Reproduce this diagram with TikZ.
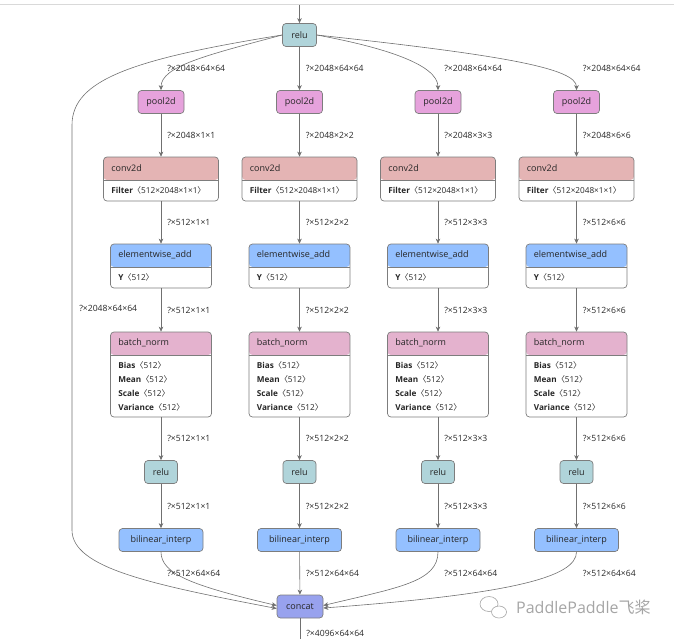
\documentclass[tikz,border=0pt]{standalone}
\usepackage{fontspec}
\setmainfont{Open Sans}
\newfontfamily\cjk{Noto Sans CJK SC}
\usetikzlibrary{arrows.meta}
\definecolor{opedge}{RGB}{112,112,112}
\definecolor{opline}{RGB}{125,125,125}
\definecolor{oprelu}{RGB}{176,212,218}
\definecolor{oppool}{RGB}{230,162,220}
\definecolor{opconv}{RGB}{228,180,180}
\definecolor{opadd}{RGB}{148,192,255}
\definecolor{opbn}{RGB}{228,178,206}
\definecolor{opcat}{RGB}{152,162,238}
\definecolor{wmark}{RGB}{165,165,165}
\newcommand{\tsz}[1]{{\cjk 〈}#1{\cjk 〉}}
\tikzset{
  op/.style={draw=opline, line width=0.7pt, rounded corners=3.5pt, inner sep=0pt,
    text=black!85, font=\fontsize{9}{11}\selectfont},
  small op/.style={op, fill=#1, minimum height=23pt},
  big op/.style 2 args={op, fill=white, minimum width=#2,
    path picture={
      \fill[#1] (path picture bounding box.north west) rectangle
        ([yshift=-23pt]path picture bounding box.north east);
      \draw[opline, line width=0.7pt] ([yshift=-23pt]path picture bounding box.north west) --
        ([yshift=-23pt]path picture bounding box.north east);}},
  optitle/.style={anchor=west, inner sep=0pt, text=black!85, font=\fontsize{9}{11}\selectfont},
  oprm/.style={anchor=west, inner sep=0pt, text=black!85, font=\fontsize{8.2}{9}\selectfont},
  flow/.style={draw=opedge, line width=0.6pt, -{Stealth[length=5pt,width=4.5pt,inset=1.5pt]}},
  lbl/.style={anchor=west, inner sep=0pt, xshift=6pt, text=black!85, font=\fontsize{8.6}{10}\selectfont},
}
\begin{document}
\begin{tikzpicture}[x=1pt, y=-1pt]
  \useasboundingbox (0,0) rectangle (674,638);
  \draw[black!15, line width=0.8pt] (0,4) -- (674,4);

  \coordinate (src) at (299.5,5);
  \node[small op=oprelu, minimum width=34pt] (relu) at (299.5,35) {relu};
  \node[small op=opcat, minimum width=46pt] (concat) at (300,606.5) {concat};
  \draw[flow] (src) -- (relu);

  \foreach \s [count=\i from 0] in {1,2,3,6}
  {
    \begin{scope}[shift={(161+138.5*\i,0)}]
      \node[small op=oppool, minimum width=46pt] (pool\i) at (0,102) {pool2d};
      \node[big op={opconv}{115pt}, minimum height=44pt] (conv\i) at (0,179) {};
      \node[optitle] (conv\i-t) at ([xshift=8pt,yshift=-11.5pt]conv\i.north west) {conv2d};
      \node[oprm] (conv\i-f) at ([xshift=8pt,yshift=-34pt]conv\i.north west)
        {\textbf{Filter}\tsz{512×2048×1×1}};
      \node[big op={opadd}{101pt}, minimum height=44pt] (add\i) at (0,266) {};
      \node[optitle] (add\i-t) at ([xshift=8pt,yshift=-11.5pt]add\i.north west) {elementwise\_add};
      \node[oprm] (add\i-y) at ([xshift=8pt,yshift=-34pt]add\i.north west) {\textbf{Y}\tsz{512}};
      \node[big op={opbn}{101pt}, minimum height=85pt] (bn\i) at (0,374.5) {};
      \node[optitle] (bn\i-t) at ([xshift=8pt,yshift=-11.5pt]bn\i.north west) {batch\_norm};
      \foreach \p [count=\k from 0] in {Bias,Mean,Scale,Variance}
        \node[oprm] (bn\i-\k) at ([xshift=8pt,yshift={-34pt-14pt*\k}]bn\i.north west)
          {\textbf{\p}\tsz{512}};
      \node[small op=oprelu, minimum width=33pt] (act\i) at (0,472) {relu};
      \node[small op=opadd, minimum width=84pt] (bil\i) at (0,540) {bilinear\_interp};
    \end{scope}

    \draw[flow] (pool\i) -- node[lbl] {?×2048×\s×\s} (conv\i);
    \draw[flow] (conv\i) -- node[lbl] {?×512×\s×\s} (add\i);
    \draw[flow] (add\i) -- node[lbl] {?×512×\s×\s} (bn\i);
    \draw[flow] (bn\i) -- node[lbl] {?×512×\s×\s} (act\i);
    \draw[flow] (act\i) -- node[lbl] {?×512×\s×\s} (bil\i);
  }

  % relu fans out to the four pools
  \draw[flow] (relu.west) .. controls +(-75,20) and +(0,-24) ..
    node[lbl, pos=1, yshift=22pt] {?×2048×64×64} (pool0.north);
  \draw[flow] (relu) -- node[lbl] {?×2048×64×64} (pool1);
  \draw[flow] (relu.east) .. controls +(65,12) and +(0,-26) ..
    node[lbl, pos=1, yshift=22pt] {?×2048×64×64} (pool2.north);
  \draw[flow] (relu.east) .. controls +(185,20) and +(0,-22) ..
    node[lbl, pos=1, yshift=22pt] {?×2048×64×64} (pool3.north);

  % the four branches meet again
  \draw[flow] (bil0.south) .. controls +(0,22) and +(-85,-20) ..
    node[lbl, pos=0, yshift=-22pt] {?×512×64×64} ([yshift=1pt]concat.west);
  \draw[flow] (bil1) -- node[lbl] {?×512×64×64} (concat);
  \draw[flow] (bil2.south) .. controls +(0,30) and +(75,-18) ..
    node[lbl, pos=0, yshift=-22pt] {?×512×64×64} ([yshift=1pt]concat.east);
  \draw[flow] (bil3.south) .. controls +(0,25) and +(190,-14) ..
    node[lbl, pos=0, yshift=-22pt] {?×512×64×64} ([yshift=-1.5pt]concat.east);

  % skip branch round the pyramid
  \coordinate (skip-top) at (72,125);
  \coordinate (skip-bot) at (72,530);
  \draw[flow] (relu.west) .. controls +(-150,24) and +(0,-45) .. (skip-top)
    -- node[lbl, pos=0.454, xshift=1pt] {?×2048×64×64} (skip-bot)
    .. controls +(0,38) and +(-125,-24) .. ([yshift=-2pt]concat.west);

  \coordinate (sink) at (300,660);
  \draw[flow] (concat) -- node[lbl, pos=0.37] {?×4096×64×64} (sink);

  % watermark
  \draw[wmark, line width=0.6pt, fill=white] (489,604) ellipse (9pt and 7.5pt);
  \draw[wmark, line width=0.6pt, fill=white] (499,612) ellipse (7.5pt and 6pt);
  \node[anchor=west, inner sep=0pt, text=wmark, font=\fontsize{16}{18}\selectfont]
    (wm) at (516,607) {PaddlePaddle{\cjk 飞桨}};
\end{tikzpicture}
\end{document}
